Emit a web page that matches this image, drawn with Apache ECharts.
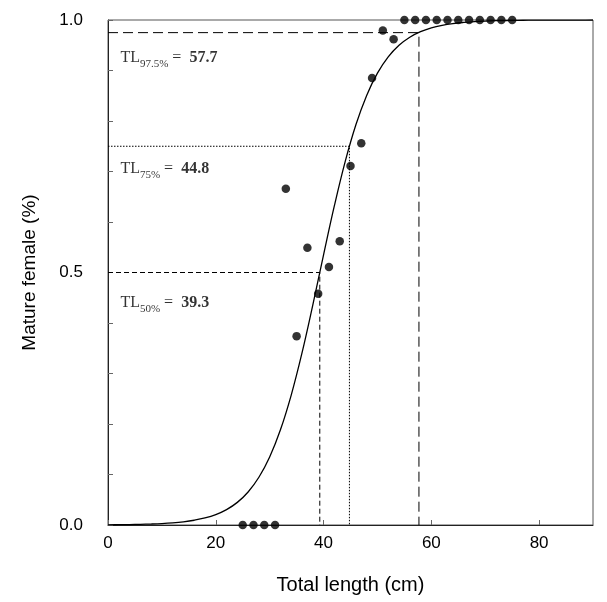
<!DOCTYPE html>
<html>
<head>
<meta charset="utf-8">
<script src="https://cdn.jsdelivr.net/npm/echarts@6/dist/echarts.min.js"></script>
<style>
html,body{margin:0;padding:0;background:#fff;}
#chart{width:607px;height:602px;}
</style>
</head>
<body>
<div id="chart"></div>
<script>
// Observed proportions of mature females by length class
const lengthClasses = [25,27,29,31,33,35,37,39,41,43,45,47,49,51,53,55,57,59,61,63,65,67,69,71,73,75];
const matureProp = [0,0,0,0,0.666,0.374,0.549,0.458,0.511,0.562,0.711,0.756,0.885,0.979,0.962,1,1,1,1,1,1,1,1,1,1,1];

// Fitted maturity curve (every 2 cm)
const curveX = [0,2,4,6,8,10,12,14,16,18,20,22,24,26,28,30,32,34,36,38,40,42,44,46,48,50,52,54,56,58,60,62,64,66,68,70,72,74,76,78,80,82,84,86,88,90];
const curveY = [0.0004,0.0006,0.0009,0.0013,0.0019,0.0028,0.0042,0.0063,0.0094,0.0139,0.0206,0.0305,0.0448,0.0654,0.0945,0.1347,0.1885,0.2573,0.3407,0.4354,0.535,0.6318,0.7191,0.7925,0.8507,0.8947,0.9269,0.9498,0.9658,0.9768,0.9843,0.9894,0.9929,0.9952,0.9968,0.9979,0.9986,0.999,0.9994,0.9996,0.9997,0.9998,0.9999,0.9999,0.9999,1.0];

// Threshold lengths
const thresholdProps = [0.5, 0.75, 0.975];
const thresholdLengths = [39.3, 44.8, 57.7];
const thresholdNames = ['50%', '75%', '97.5%'];
const thresholdValueText = ['39.3', '44.8', '57.7'];

const xTicks = [0,20,40,60,80];
const yTickLabels = ['0.0','0.5','1.0'];

const chart = echarts.init(document.getElementById('chart'), null, {renderer:'canvas'});

const dashStyles = [[5,3],[1.5,1.5],[10,5]];
const labelY = [0.44, 0.705, 0.925];

const refSeries = thresholdProps.map((p,i)=>({
  type:'line',
  data:[[0,p],[thresholdLengths[i],p],[thresholdLengths[i],0]],
  symbol:'none',
  silent:true,
  z:1,
  lineStyle:{color:'#000',width:1,type:dashStyles[i]},
  animation:false
}));

const labelSeries = {
  type:'scatter',
  symbolSize:0,
  silent:true,
  z:5,
  animation:false,
  data: thresholdProps.map((p,i)=>({
    value:[2.3, labelY[i]],
    label:{
      show:true,
      position:'inside',
      align:'left',
      verticalAlign:'middle',
      formatter:'{a|TL}{s|' + thresholdNames[i] + '}{a| =  }{b|' + thresholdValueText[i] + '}',
      rich:{
        a:{fontFamily:'Liberation Serif',fontSize:16,color:'#000',lineHeight:24},
        s:{fontFamily:'Liberation Serif',fontSize:11,color:'#000',lineHeight:11,verticalAlign:'bottom'},
        b:{fontFamily:'Liberation Serif',fontSize:16,fontWeight:'bold',color:'#000',lineHeight:24}
      }
    }
  }))
};

const option = {
  backgroundColor:'#fff',
  animation:false,
  grid:{left:108,right:14,top:20,bottom:77,show:true,borderColor:'#555',borderWidth:1,containLabel:false},
  xAxis:{
    type:'value',min:0,max:90,interval:20,
    axisLine:{show:true,lineStyle:{color:'#222',width:1}},
    axisTick:{show:true,inside:true,length:5,lineStyle:{color:'#666'}},
    splitLine:{show:false},
    axisLabel:{
      margin:10,fontSize:17,fontFamily:'Liberation Sans',color:'#000',
      showMaxLabel:false,
      formatter:v=> xTicks.indexOf(v)>=0 ? String(v) : ''
    },
    name:'Total length (cm)',nameLocation:'middle',nameGap:50,
    nameTextStyle:{fontSize:20,fontFamily:'Liberation Sans',color:'#000'}
  },
  yAxis:{
    type:'value',min:0,max:1,interval:0.1,
    axisLine:{show:true,lineStyle:{color:'#222',width:1}},
    axisTick:{show:true,inside:true,length:5,lineStyle:{color:'#666'}},
    splitLine:{show:false},
    axisLabel:{
      margin:25,fontSize:17,fontFamily:'Liberation Sans',color:'#000',
      formatter:v=>{const k=Math.round(v*10); return k%5===0 ? yTickLabels[k/5] : '';}
    },
    name:'Mature female (%)',nameLocation:'middle',nameGap:69,
    nameTextStyle:{fontSize:19,fontFamily:'Liberation Sans',color:'#000'}
  },
  series:[
    ...refSeries,
    {
      type:'line',
      data:curveX.map((x,i)=>[x,curveY[i]]),
      symbol:'none',smooth:0.4,
      lineStyle:{color:'#000',width:1.3},
      z:2,silent:true
    },
    {
      type:'scatter',
      data:lengthClasses.map((x,i)=>[x,matureProp[i]]),
      symbol:'circle',symbolSize:8.5,
      itemStyle:{color:'#000'},
      clip:false,z:4,silent:true
    },
    labelSeries
  ]
};
chart.setOption(option);
</script>
</body>
</html>
